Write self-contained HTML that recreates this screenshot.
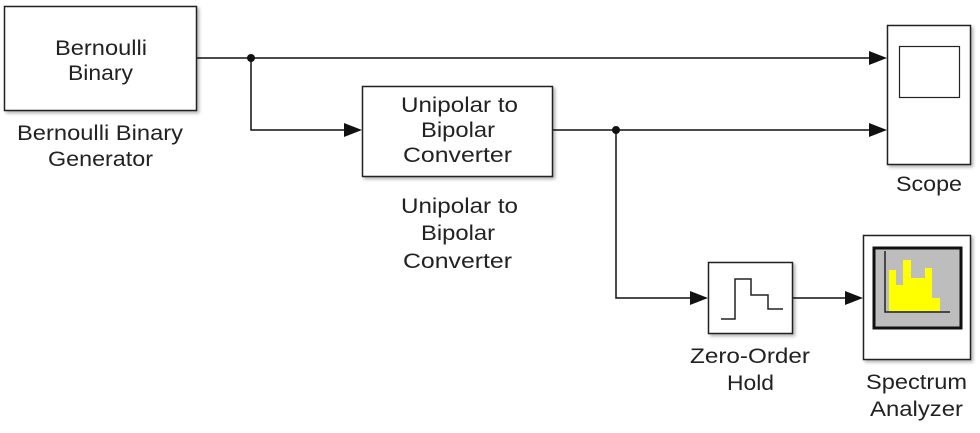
<!DOCTYPE html>
<html><head><style>body{margin:0;background:#fff}</style></head><body>
<svg width="980" height="428" viewBox="0 0 980 428" xmlns="http://www.w3.org/2000/svg" font-family="Liberation Sans, Arial, sans-serif" font-size="21" fill="#222">
<defs><filter id="s" x="-10%" y="-10%" width="130%" height="130%"><feDropShadow dx="2" dy="2" stdDeviation="1.5" flood-color="#000" flood-opacity="0.3"/></filter></defs>
<g stroke="#222" stroke-width="1.5" fill="#fff">
<rect x="4.5" y="6.5" width="192" height="104" filter="url(#s)"/>
<rect x="362.5" y="86.5" width="190" height="90" filter="url(#s)"/>
<rect x="887.5" y="25.5" width="83" height="139" filter="url(#s)"/>
<rect x="708.5" y="262.5" width="84" height="71" filter="url(#s)"/>
<rect x="863.5" y="235.5" width="107" height="124" filter="url(#s)"/>
<rect x="899.5" y="46.5" width="60" height="51" stroke-width="1.2"/>
</g>
<rect x="874" y="248" width="87" height="80" fill="#bdbdbd" stroke="#111" stroke-width="3"/>
<g fill="#ffff00">
<rect x="889" y="270" width="7" height="41"/><rect x="896" y="285" width="7" height="26"/>
<rect x="903" y="260" width="8" height="51"/><rect x="911" y="278" width="14" height="33"/>
<rect x="925" y="268" width="7" height="43"/><rect x="932" y="298" width="8" height="13"/>
</g>
<polyline points="885,251 885,312 950,312" fill="none" stroke="#222" stroke-width="1.5"/>
<polyline points="721,319 735,319 735,279 751,279 751,295 768,295 768,309 783,309" fill="none" stroke="#222" stroke-width="1.5"/>
<g stroke="#111" stroke-width="1.5" fill="none">
<polyline points="197,58 872,58"/>
<polyline points="251,58 251,130 348,130"/>
<polyline points="553,130 872,130"/>
<polyline points="616,130 616,298 695,298"/>
<polyline points="793,298 849,298"/>
</g>
<g fill="#111">
<circle cx="251" cy="58" r="4"/><circle cx="616" cy="130" r="4"/>
<polygon points="887,58 869,51 869,65"/>
<polygon points="887,130 869,123 869,137"/>
<polygon points="362,130 344,123 344,137"/>
<polygon points="708,298 690,291 690,305"/>
<polygon points="863,298 845,291 845,305"/>
</g>
<g lengthAdjust="spacingAndGlyphs">
<text x="55" y="55" textLength="92" lengthAdjust="spacingAndGlyphs">Bernoulli</text>
<text x="68" y="80" textLength="65" lengthAdjust="spacingAndGlyphs">Binary</text>
<text x="17" y="140" textLength="166" lengthAdjust="spacingAndGlyphs">Bernoulli Binary</text>
<text x="48" y="166" textLength="105" lengthAdjust="spacingAndGlyphs">Generator</text>
<text x="401" y="112" textLength="117" lengthAdjust="spacingAndGlyphs">Unipolar to</text>
<text x="421" y="137" textLength="74" lengthAdjust="spacingAndGlyphs">Bipolar</text>
<text x="403" y="162" textLength="109" lengthAdjust="spacingAndGlyphs">Converter</text>
<text x="401" y="213" textLength="117" lengthAdjust="spacingAndGlyphs">Unipolar to</text>
<text x="421" y="240" textLength="74" lengthAdjust="spacingAndGlyphs">Bipolar</text>
<text x="403" y="268" textLength="109" lengthAdjust="spacingAndGlyphs">Converter</text>
<text x="896" y="191" textLength="66" lengthAdjust="spacingAndGlyphs">Scope</text>
<text x="690" y="363" textLength="120" lengthAdjust="spacingAndGlyphs">Zero-Order</text>
<text x="727" y="390" textLength="47" lengthAdjust="spacingAndGlyphs">Hold</text>
<text x="866" y="389" textLength="101" lengthAdjust="spacingAndGlyphs">Spectrum</text>
<text x="870" y="416" textLength="93" lengthAdjust="spacingAndGlyphs">Analyzer</text>
</g>
</svg>
</body></html>
